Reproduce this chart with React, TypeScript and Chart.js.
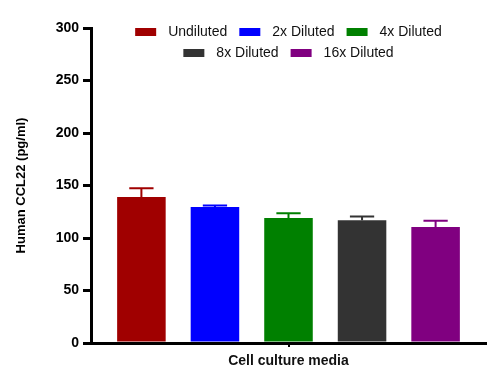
import React, { useEffect, useRef } from 'react';
import { Chart, registerables } from 'chart.js';

Chart.register(...registerables);

const categories = [''];
const seriesLabels = ['Undiluted', '2x Diluted', '4x Diluted', '8x Diluted', '16x Diluted'];
const seriesColors = ['#A00000', '#0000FF', '#008000', '#333333', '#800080'];
const meanValues = [139, 129.5, 119, 117, 110.5];
const errorValues = [8.3, 1.5, 4.6, 3.4, 5.9];
const yTicks = [0, 50, 100, 150, 200, 250, 300];

const FONT = "'Liberation Sans', Arial, Helvetica, sans-serif";

const errorBarPlugin = {
  id: 'errorBars',
  afterDatasetsDraw(chart: any) {
    const ctx = chart.ctx;
    const yScale = chart.scales.y;
    chart.data.datasets.forEach((ds: any, i: number) => {
      const meta = chart.getDatasetMeta(i);
      meta.data.forEach((bar: any, j: number) => {
        const v = ds.data[j];
        const e = ds.errors[j];
        const base = yScale.getPixelForValue(v);
        const top = yScale.getPixelForValue(v + e);
        const half = bar.width / 4;
        ctx.save();
        ctx.strokeStyle = ds.backgroundColor;
        ctx.lineWidth = 2;
        ctx.beginPath();
        ctx.moveTo(bar.x, base);
        ctx.lineTo(bar.x, top);
        ctx.moveTo(bar.x - half, top);
        ctx.lineTo(bar.x + half, top);
        ctx.stroke();
        ctx.restore();
      });
    });
  },
};

const legendPlugin = {
  id: 'customLegend',
  afterDraw(chart: any) {
    const ctx = chart.ctx;
    const area = chart.chartArea;
    const boxW = 21;
    const boxH = 8;
    const gap = 12;
    const itemPad = 12;
    const rowH = 21;
    const firstRowY = 32;
    ctx.save();
    ctx.font = `14px ${FONT}`;
    const items = chart.data.datasets.map((ds: any) => ({
      label: ds.label,
      color: ds.backgroundColor,
      w: boxW + gap + ctx.measureText(ds.label).width,
    }));
    const maxW = area.right - area.left;
    const rows: any[][] = [];
    let cur: any[] = [];
    let curW = 0;
    items.forEach((it: any) => {
      const add = cur.length ? itemPad + it.w : it.w;
      if (cur.length && curW + add > maxW - 60) {
        rows.push(cur);
        cur = [it];
        curW = it.w;
      } else {
        cur.push(it);
        curW += add;
      }
    });
    if (cur.length) rows.push(cur);
    const cx = (area.left + area.right) / 2;
    rows.forEach((row, r) => {
      const total = row.reduce((s: number, it: any, k: number) => s + it.w + (k ? itemPad : 0), 0);
      let x = cx - total / 2;
      const y = firstRowY + r * rowH;
      row.forEach((it: any) => {
        ctx.fillStyle = it.color;
        ctx.fillRect(x, y - boxH / 2, boxW, boxH);
        ctx.fillStyle = '#111111';
        ctx.textBaseline = 'middle';
        ctx.textAlign = 'left';
        ctx.fillText(it.label, x + boxW + gap, y + 0.5);
        x += it.w + itemPad;
      });
    });
    ctx.restore();
  },
};

export default function App() {
  const ref = useRef<HTMLCanvasElement | null>(null);

  useEffect(() => {
    if (!ref.current) return;
    const chart = new Chart(ref.current, {
      type: 'bar',
      data: {
        labels: categories,
        datasets: seriesLabels.map((label, i) => ({
          label,
          data: [meanValues[i]],
          errors: [errorValues[i]],
          backgroundColor: seriesColors[i],
          borderWidth: 0,
          categoryPercentage: 0.931,
          barPercentage: 0.66,
        })) as any,
      },
      options: {
        responsive: false,
        animation: false,
        devicePixelRatio: 1,
        layout: { padding: { left: 0, right: 8, top: 28, bottom: 0 } },
        plugins: {
          legend: { display: false },
          tooltip: { enabled: false },
          title: { display: false },
        },
        scales: {
          x: {
            offset: true,
            afterFit: (scale: any) => {
              scale.height = 40;
            },
            grid: {
              offset: false,
              drawOnChartArea: false,
              drawTicks: true,
              tickLength: 4,
              lineWidth: 2,
              color: '#000000',
            },
            border: { display: true, color: '#000000', width: 3 },
            ticks: { display: true, color: '#000000', font: { family: FONT, size: 14, weight: 'bold' } },
            title: {
              display: true,
              text: 'Cell culture media',
              color: '#111111',
              font: { family: FONT, size: 14, weight: 'bold' },
              padding: { top: 0, bottom: 13 },
            },
          },
          y: {
            min: yTicks[0],
            max: yTicks[yTicks.length - 1],
            afterFit: (scale: any) => {
              scale.width = 91;
            },
            afterBuildTicks: (scale: any) => {
              scale.ticks = yTicks.map((v) => ({ value: v }));
            },
            grid: {
              drawOnChartArea: false,
              drawTicks: true,
              tickLength: 8,
              lineWidth: 3,
              color: '#000000',
            },
            border: { display: true, color: '#000000', width: 3 },
            ticks: {
              color: '#000000',
              padding: 4,
              font: { family: FONT, size: 14, weight: 'bold' },
            },
            title: {
              display: true,
              text: 'Human CCL22 (pg/ml)',
              color: '#000000',
              font: { family: FONT, size: 13, weight: 'bold' },
              padding: { top: 14, bottom: 0 },
            },
          },
        },
      },
      plugins: [errorBarPlugin, legendPlugin],
    });
    return () => chart.destroy();
  }, []);

  return (
    <div style={{ position: 'fixed', left: 0, top: 0, width: 494, height: 383, background: '#ffffff' }}>
      <canvas ref={ref} width={494} height={383} style={{ display: 'block', width: 494, height: 383 }} />
    </div>
  );
}
